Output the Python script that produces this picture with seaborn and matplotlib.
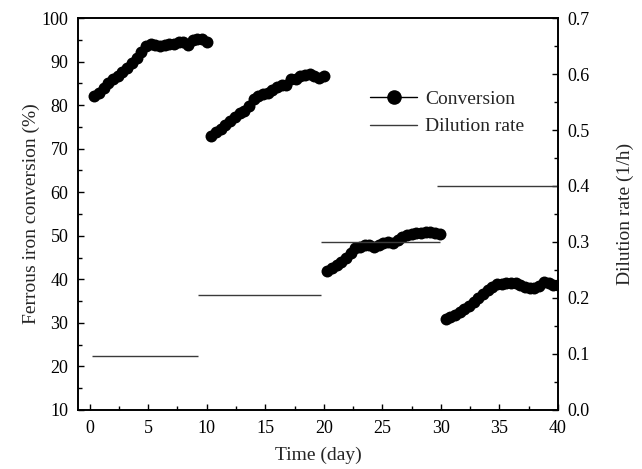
import numpy as np
import pandas as pd
import seaborn as sns
import matplotlib.pyplot as plt
from matplotlib.lines import Line2D
from matplotlib.ticker import MultipleLocator

# --- data ---
# conversion (%) per run, four dilution-rate periods
t_run1 = [0.4, 0.8, 1.2, 1.6, 2.0, 2.4, 2.8, 3.2, 3.6, 4.0, 4.4, 4.8, 5.2,
          5.6, 6.0, 6.4, 6.8, 7.2, 7.6, 8.0, 8.4, 8.8, 9.2, 9.6, 10.0]
conv_run1 = [82.1, 82.9, 84.0, 85.0, 85.9, 86.8, 87.7, 88.6, 89.6, 90.9, 92.1, 93.5, 94.1,
             93.7, 93.5, 93.9, 94.1, 94.1, 94.6, 94.6, 93.8, 94.9, 95.3, 95.1, 94.5]

t_run2 = [10.4, 10.8, 11.2, 11.6, 12.0, 12.4, 12.8, 13.2, 13.6, 14.0, 14.4, 14.8, 15.2,
          15.6, 16.0, 16.4, 16.8, 17.2, 17.6, 18.0, 18.4, 18.8, 19.2, 19.6, 20.0]
conv_run2 = [72.9, 73.8, 74.6, 75.4, 76.4, 77.2, 78.1, 78.6, 79.9, 81.3, 82.0, 82.5, 82.9,
             83.4, 84.1, 84.6, 84.6, 85.9, 86.1, 86.6, 86.9, 87.1, 86.6, 86.2, 86.6]

t_run3 = [20.3, 20.7, 21.1, 21.5, 21.9, 22.3, 22.7, 23.1, 23.5, 23.9, 24.3, 24.7, 25.1,
          25.5, 25.9, 26.3, 26.7, 27.1, 27.5, 27.9, 28.3, 28.7, 29.1, 29.5, 29.9]
conv_run3 = [42.0, 42.6, 43.2, 43.9, 44.8, 46.0, 47.1, 47.5, 47.9, 47.8, 47.5, 47.9, 48.4,
             48.5, 48.3, 49.0, 49.8, 50.1, 50.4, 50.6, 50.7, 50.9, 50.8, 50.6, 50.4]

t_run4 = [30.4, 30.8, 31.2, 31.6, 32.0, 32.4, 32.8, 33.2, 33.6, 34.0, 34.4, 34.8, 35.2,
          35.6, 36.0, 36.4, 36.8, 37.2, 37.6, 38.0, 38.4, 38.8, 39.2, 39.6, 40.0]
conv_run4 = [30.9, 31.3, 31.8, 32.5, 33.1, 33.9, 34.7, 35.6, 36.7, 37.6, 38.3, 38.9, 39.0,
             39.1, 39.2, 39.2, 38.8, 38.3, 38.0, 37.9, 38.5, 39.4, 39.2, 38.7, 38.6]

# dilution rate (1/h) steps
dil_start = [0.2, 9.25, 19.75, 29.65]
dil_end = [9.25, 19.75, 29.95, 40.0]
dil_rate = [0.096, 0.206, 0.300, 0.400]

runs = [(t_run1, conv_run1), (t_run2, conv_run2), (t_run3, conv_run3), (t_run4, conv_run4)]
df = pd.concat([pd.DataFrame({'day': t, 'conv': c, 'run': i}) for i, (t, c) in enumerate(runs)],
               ignore_index=True)

# --- plot ---
sns.set_theme(style='ticks')
plt.rcParams['font.family'] = ['Liberation Serif', 'DejaVu Serif']

fig = plt.figure(figsize=(6.42, 4.69), dpi=100)
ax = fig.add_axes([0.1215, 0.126, 0.7475, 0.8355])

sns.lineplot(data=df, x='day', y='conv', units='run', estimator=None, ax=ax,
             color='black', marker='o', markersize=8.6, markeredgewidth=0, lw=1,
             legend=False)

ax2 = ax.twinx()
ax2.hlines(dil_rate, dil_start, dil_end, color='#3a3a3a', lw=1)

ax.set_xlim(-1, 40)
ax.set_ylim(10, 100)
ax2.set_ylim(0, 0.7)

ax.xaxis.set_major_locator(MultipleLocator(5))
ax.xaxis.set_minor_locator(MultipleLocator(2.5))
ax.yaxis.set_major_locator(MultipleLocator(10))
ax.yaxis.set_minor_locator(MultipleLocator(5))
ax2.yaxis.set_major_locator(MultipleLocator(0.1))
ax2.yaxis.set_minor_locator(MultipleLocator(0.05))
ax2.yaxis.set_major_formatter(plt.FormatStrFormatter('%.1f'))

for a in (ax, ax2):
    a.tick_params(which='both', direction='in', labelsize=13, width=1, pad=7, colors='black')
    a.tick_params(which='major', length=4.5)
    a.tick_params(which='minor', length=3)
    for s in a.spines.values():
        s.set_linewidth(1.2)
        s.set_color('black')
ax.tick_params(axis='y', which='both', right=False)
ax.tick_params(axis='x', which='both', top=False)

ax.set_xlabel('Time (day)', fontsize=14, labelpad=7)
ax.set_ylabel('Ferrous iron conversion (%)', fontsize=14, labelpad=1)
ax2.set_ylabel('Dilution rate (1/h)', fontsize=14, labelpad=19)

handles = [Line2D([], [], color='black', lw=1, marker='o', markersize=10.5, markeredgewidth=0),
           Line2D([], [], color='#3a3a3a', lw=1)]
ax2.legend(handles, ['Conversion', 'Dilution rate'], frameon=False, fontsize=14,
           loc='upper left', bbox_to_anchor=(0.593, 0.835), handlelength=2.4,
           handletextpad=0.4, labelspacing=0.5, borderaxespad=0)

fig.savefig('out.png', dpi=100)
